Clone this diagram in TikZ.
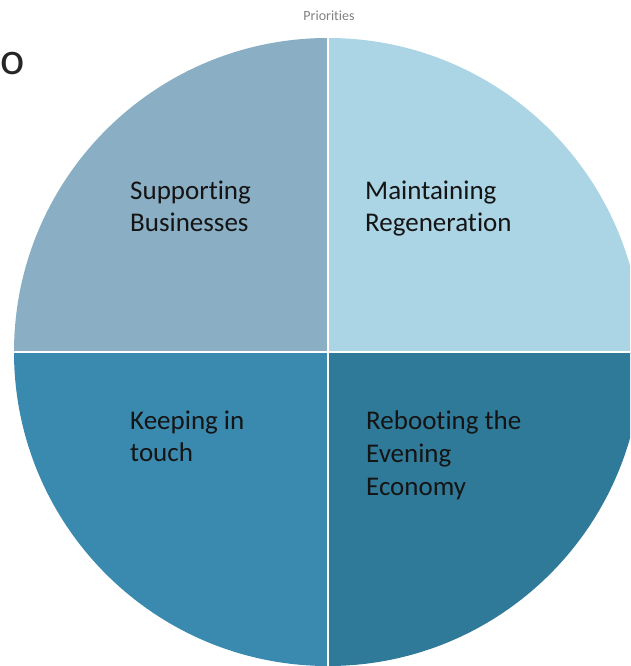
\documentclass[tikz,border=0pt]{standalone}
\usepackage{fontspec}
\setmainfont{Carlito}[Ligatures=NoCommon]
\definecolor{qUL}{HTML}{8AAEC4}
\definecolor{qUR}{HTML}{ABD4E4}
\definecolor{qLL}{HTML}{3A8AAF}
\definecolor{qLR}{HTML}{2F7A99}
\definecolor{txt}{HTML}{141414}
\begin{document}
\begin{tikzpicture}[x=1pt,y=-1pt,
  lbl/.style={anchor=base west,inner sep=0pt,text=txt,font=\fontsize{27}{32}\selectfont},
  sep/.style={draw=white,line width=2.5pt}]
\useasboundingbox (0,0) rectangle (630,666);
\clip (0,0) rectangle (630,666);
\coordinate (c) at (328,352);
\fill[qUL] (c) -- (14,352) arc[start angle=180,end angle=270,radius=314] -- cycle;
\fill[qUR] (c) -- (328,38) arc[start angle=270,end angle=360,radius=314] -- cycle;
\fill[qLR] (c) -- (642,352) arc[start angle=0,end angle=90,radius=314] -- cycle;
\fill[qLL] (c) -- (328,666) arc[start angle=90,end angle=180,radius=314] -- cycle;
\coordinate (t) at (328,30);
\coordinate (b) at (328,680);
\coordinate (l) at (0,352);
\coordinate (r) at (650,352);
\draw[sep] (t) -- (b);
\draw[sep] (l) -- (r);
\node[lbl] (sb1) at (130,199) {Supporting};
\node[lbl] (sb2) at (130,231) {Businesses};
\node[lbl] (mr1) at (365,199) {Maintaining};
\node[lbl] (mr2) at (365,231) {Regeneration};
\node[lbl] (kt1) at (130,429) {Keeping in};
\node[lbl] (kt2) at (130,461) {touch};
\node[lbl] (re1) at (366,429) {Rebooting the};
\node[lbl] (re2) at (366,462) {Evening};
\node[lbl] (re3) at (366,495) {Economy};
\node[anchor=base,inner sep=0pt,text=gray,font=\fontsize{14}{16}\selectfont] (title) at (329,21) {Priorities};
\node[anchor=base west,inner sep=0pt,text=black!85,font=\fontsize{46}{52}\selectfont] (o) at (0,75) {o};
\end{tikzpicture}
\end{document}
